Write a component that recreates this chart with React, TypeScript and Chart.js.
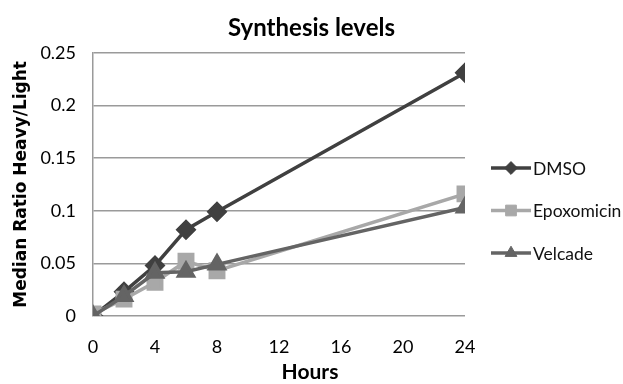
import React, { useEffect, useRef } from "react";
import { Chart, registerables } from "chart.js";
import { drawPoint } from "chart.js/helpers";

Chart.register(...registerables);

const hours = [0, 2, 4, 6, 8, 24];
const dmso = [0, 0.023, 0.048, 0.082, 0.099, 0.231];
const epoxomicin = [0.002, 0.016, 0.032, 0.052, 0.043, 0.116];
const velcade = [0, 0.019, 0.041, 0.042, 0.049, 0.103];
const seriesNames = ["DMSO", "Epoxomicin", "Velcade"];
const xTitle = "Hours";
const yTitle = "Median Ratio Heavy/Light";
const chartTitle = "Synthesis levels";

const NARROW = "Lato, 'Liberation Sans', sans-serif";

const toPts = (ys: number[]) => hours.map((x, i) => ({ x, y: ys[i] }));

const legendPlugin = {
  id: "customLegend",
  afterDraw(chart: any) {
    const ctx = chart.ctx;
    const ds = chart.data.datasets;
    const startY = 168;
    const gap = 42.5;
    ctx.save();
    ds.forEach((d: any, i: number) => {
      const y = startY + i * gap;
      ctx.strokeStyle = d.borderColor;
      ctx.lineWidth = d.borderWidth;
      ctx.beginPath();
      ctx.moveTo(491, y);
      ctx.lineTo(531, y);
      ctx.stroke();
      ctx.fillStyle = d.pointBackgroundColor;
      ctx.strokeStyle = d.pointBorderColor;
      ctx.lineWidth = 1;
      drawPoint(ctx, { pointStyle: d.pointStyle, radius: d.pointRadius * 0.8, rotation: 0, borderWidth: 1 }, 511, y);
      ctx.fillStyle = "#111";
      ctx.font = `17.5px ${NARROW}`;
      ctx.textAlign = "left";
      ctx.textBaseline = "middle";
      ctx.fillText(d.label, 533, y + 1);
    });
    // x-axis title
    ctx.font = `bold 21px ${NARROW}`;
    ctx.fillStyle = "#000";
    ctx.textAlign = "center";
    ctx.textBaseline = "middle";
    ctx.fillText(xTitle, 310, 372);
    ctx.restore();
  },
};

export default function App() {
  const ref = useRef<HTMLCanvasElement | null>(null);
  useEffect(() => {
    if (!ref.current) return;
    const chart = new Chart(ref.current, {
      type: "line",
      data: {
        datasets: [
          {
            label: seriesNames[0],
            data: toPts(dmso),
            borderColor: "#404040",
            backgroundColor: "#404040",
            pointBackgroundColor: "#404040",
            pointBorderColor: "#404040",
            borderWidth: 3.5,
            pointStyle: "rectRot",
            pointRadius: 8,
            order: 3,
          },
          {
            label: seriesNames[1],
            data: toPts(epoxomicin),
            borderColor: "#a8a8a8",
            backgroundColor: "#a8a8a8",
            pointBackgroundColor: "#a8a8a8",
            pointBorderColor: "#a8a8a8",
            borderWidth: 3.5,
            pointStyle: "rect",
            pointRadius: 9.5,
            order: 2,
          },
          {
            label: seriesNames[2],
            data: toPts(velcade),
            borderColor: "#646464",
            backgroundColor: "#646464",
            pointBackgroundColor: "#646464",
            pointBorderColor: "#646464",
            borderWidth: 3.5,
            pointStyle: "triangle",
            pointRadius: 8.5,
            order: 1,
          },
        ] as any,
      },
      options: {
        animation: false,
        responsive: false,
        layout: { padding: 0 },
        plugins: {
          legend: { display: false },
          tooltip: { enabled: false },
          title: {
            display: true,
            text: chartTitle,
            color: "#000",
            font: { family: NARROW, size: 24, weight: "bold" },
            padding: { top: 14, bottom: 10 },
          },
        },
        scales: {
          x: {
            type: "linear",
            min: 0,
            max: 24,
            afterFit: (s: any) => {
              s.height = 68;
            },
            ticks: {
              stepSize: 4,
              color: "#000",
              font: { family: NARROW, size: 18 },
              padding: 20,
            },
            grid: { display: false, drawTicks: false },
            border: { display: false },
          },
          y: {
            min: 0,
            max: 0.25,
            afterFit: (s: any) => {
              s.width = 93;
            },
            ticks: {
              stepSize: 0.05,
              color: "#000",
              font: { family: NARROW, size: 18 },
              padding: 17,
              callback: (v: any) => String(Number(Number(v).toFixed(2))),
            },
            grid: { color: "#9a9a9a", lineWidth: 1.5, drawTicks: false },
            border: { display: true, color: "#9a9a9a", width: 1.5 },
            title: {
              display: true,
              text: yTitle,
              color: "#000",
              font: { family: "'DejaVu Sans', sans-serif", size: 17, weight: "bold" },
              padding: { top: 11, bottom: 0 },
            },
          },
          legendSpace: {
            type: "linear",
            position: "right",
            display: true,
            afterFit: (s: any) => {
              s.width = 158;
            },
            ticks: { display: false },
            grid: { display: false, drawTicks: false },
            border: { display: false },
          },
        },
      },
      plugins: [legendPlugin],
    } as any);
    return () => chart.destroy();
  }, []);
  return (
    <div style={{ position: "absolute", left: 0, top: 0, width: 623, height: 384, background: "#fff" }}>
      <canvas ref={ref} width={623} height={384} style={{ width: 623, height: 384 }} />
    </div>
  );
}
